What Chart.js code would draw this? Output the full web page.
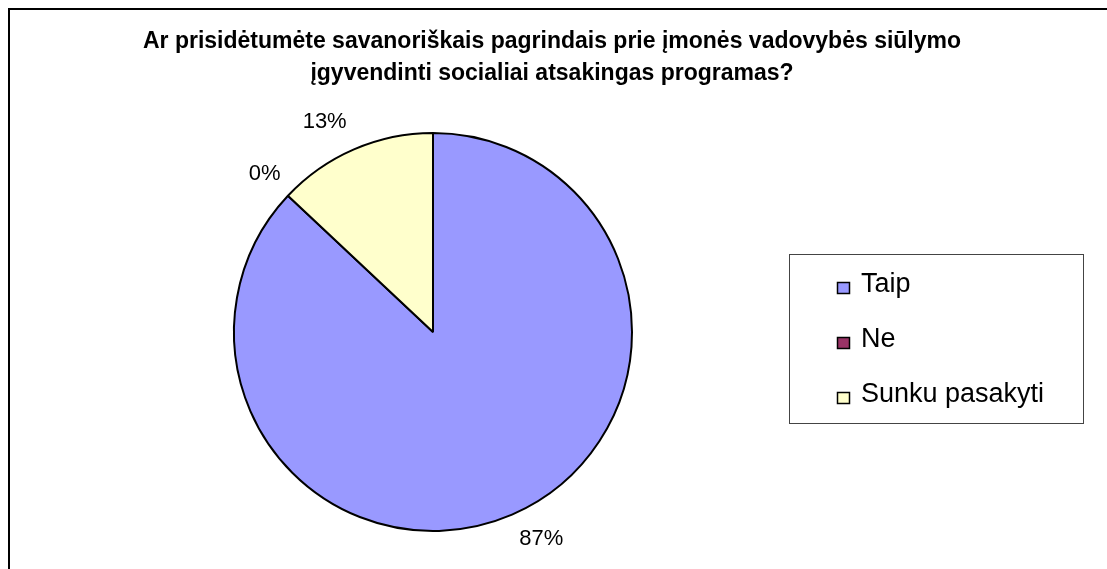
<!DOCTYPE html>
<html>
<head>
<meta charset="utf-8">
<script src="https://cdn.jsdelivr.net/npm/chart.js@4"></script>
<style>
  html, body { margin: 0; padding: 0; background: #fff; }
  #wrap { width: 1107px; height: 569px; }
</style>
</head>
<body>
<div id="wrap"><canvas id="pie-chart" width="1107" height="569"></canvas></div>
<script>
const categories = ['Taip', 'Ne', 'Sunku pasakyti'];
const shares = [87, 0, 13];
const sliceColors = ['#9999FF', '#993366', '#FFFFCC'];
const titleLines = [
  'Ar prisidėtumėte savanoriškais pagrindais prie įmonės vadovybės siūlymo',
  'įgyvendinti socialiai atsakingas programas?'
];

const FONT = '"Liberation Sans", Arial, sans-serif';

// small shifts for the outside percent labels (px)
const labelNudge = [[15, -9], [3, 2.5], [-15, 6]];

// outer frame (runs off the right and bottom edges) and the two-line title
const framePlugin = {
  id: 'frame',
  beforeDraw(chart) {
    const ctx = chart.ctx;
    ctx.save();
    ctx.strokeStyle = '#000';
    ctx.lineWidth = 2;
    ctx.strokeRect(9, 9, chart.width + 20, chart.height + 20);
    ctx.font = 'bold 23px ' + FONT;
    ctx.fillStyle = '#000';
    ctx.textAlign = 'center';
    ctx.textBaseline = 'middle';
    titleLines.forEach((line, i) => {
      ctx.fillText(line, 552, 42 + i * 31.5);
    });
    ctx.restore();
  }
};

// percentage labels outside each slice
const pctLabels = {
  id: 'pctLabels',
  afterDatasetsDraw(chart) {
    const ctx = chart.ctx;
    const meta = chart.getDatasetMeta(0);
    ctx.save();
    ctx.font = '22px ' + FONT;
    ctx.fillStyle = '#000';
    ctx.textAlign = 'center';
    ctx.textBaseline = 'middle';
    meta.data.forEach((arc, i) => {
      const p = arc.getProps(['x', 'y', 'startAngle', 'endAngle', 'outerRadius'], true);
      const mid = (p.startAngle + p.endAngle) / 2;
      const d = p.outerRadius + 36;
      const x = p.x + Math.cos(mid) * d + labelNudge[i][0];
      const y = p.y + Math.sin(mid) * d + labelNudge[i][1];
      ctx.fillText(Math.round(shares[i]) + '%', x, y);
    });
    ctx.restore();
  }
};

// boxed legend on the right
const boxLegend = {
  id: 'boxLegend',
  afterDraw(chart) {
    const ctx = chart.ctx;
    ctx.save();
    ctx.strokeStyle = '#444';
    ctx.lineWidth = 1;
    ctx.strokeRect(789.5, 254.5, 294, 169);
    ctx.font = '27px ' + FONT;
    ctx.textBaseline = 'alphabetic';
    categories.forEach((name, i) => {
      const base = 292 + i * 55;
      ctx.fillStyle = sliceColors[i];
      ctx.fillRect(837, base - 10, 13, 12);
      ctx.strokeStyle = '#000';
      ctx.lineWidth = 1.5;
      ctx.strokeRect(837.5, base - 9.5, 12, 11);
      ctx.fillStyle = '#000';
      ctx.fillText(name, 861, base);
    });
    ctx.restore();
  }
};

new Chart(document.getElementById('pie-chart'), {
  type: 'pie',
  data: {
    labels: categories,
    datasets: [{
      data: shares,
      backgroundColor: sliceColors,
      borderColor: '#000',
      borderWidth: 2
    }]
  },
  options: {
    responsive: false,
    animation: false,
    layout: {
      padding: { top: 132, bottom: 37, left: 233, right: 474 }
    },
    plugins: {
      legend: { display: false },
      tooltip: { enabled: false },
      title: { display: false }
    }
  },
  plugins: [framePlugin, pctLabels, boxLegend]
});
</script>
</body>
</html>
